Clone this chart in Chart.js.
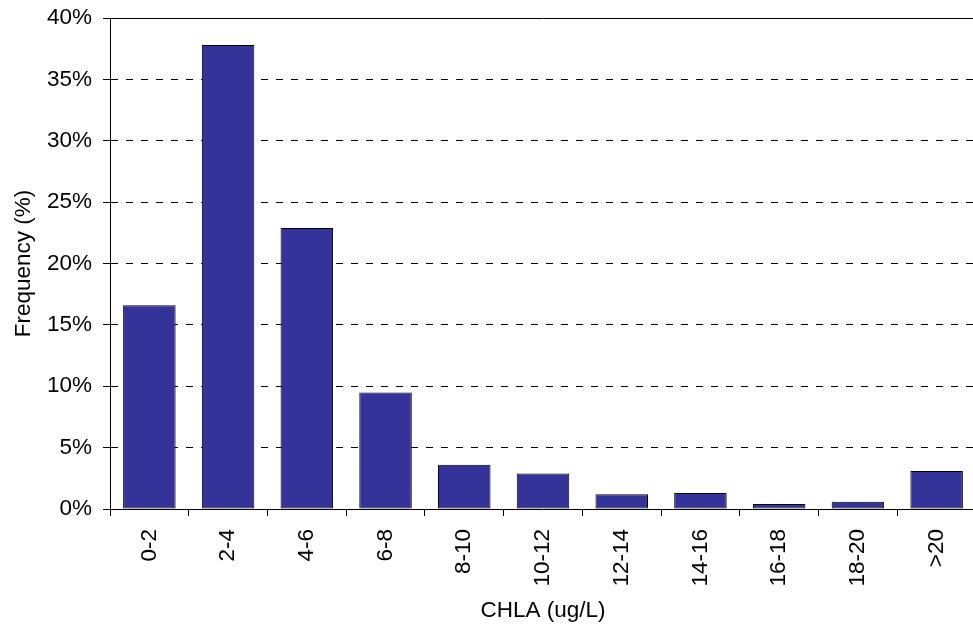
<!DOCTYPE html>
<html>
<head>
<meta charset="utf-8">
<script src="https://cdn.jsdelivr.net/npm/chart.js@4/dist/chart.umd.min.js"></script>
<style>
  html, body { margin: 0; padding: 0; background: #fff; overflow: hidden; }
  #wrap { width: 976px; height: 627px; position: relative; }
</style>
</head>
<body>
<div id="wrap"><canvas id="chart"></canvas></div>
<script>
const categories = ['0-2', '2-4', '4-6', '6-8', '8-10', '10-12', '12-14', '14-16', '16-18', '18-20', '>20'];
const frequency = [16.6, 37.8, 22.9, 9.5, 3.6, 2.9, 1.2, 1.3, 0.4, 0.6, 3.1];
const yTicks = [0, 5, 10, 15, 20, 25, 30, 35, 40];

const font = { family: '"Liberation Sans", Arial, sans-serif', size: 22.5 };

Chart.defaults.color = '#000';

new Chart(document.getElementById('chart'), {
  type: 'bar',
  data: {
    labels: categories,
    datasets: [{
      data: frequency,
      backgroundColor: '#333399',
      borderColor: '#000',
      borderWidth: 1,
      borderSkipped: false,
      barPercentage: 0.667,
      categoryPercentage: 1
    }]
  },
  options: {
    responsive: true,
    maintainAspectRatio: false,
    animation: false,
    layout: { padding: { left: 10, right: 0, top: 0, bottom: 3 } },
    plugins: {
      legend: { display: false },
      tooltip: { enabled: false }
    },
    scales: {
      x: {
        position: 'bottom',
        grid: { display: true, drawOnChartArea: false, drawTicks: true, tickLength: 7, tickColor: '#000', offset: true },
        border: { display: true, color: '#000', width: 1 },
        ticks: { font, maxRotation: 90, minRotation: 90, padding: 13, color: '#000' },
        title: { display: true, text: 'CHLA (ug/L)', font, color: '#000', padding: 0 },
        afterFit: s => { s.height = 115; s.paddingLeft = 0; s.paddingRight = 0; }
      },
      x2: {
        type: 'category',
        position: 'top',
        grid: { display: false },
        ticks: { display: false },
        border: { display: true, color: '#000', width: 1 },
        afterFit: s => { s.height = 18; }
      },
      y: {
        min: 0,
        max: 40,
        afterBuildTicks: s => { s.ticks = yTicks.map(v => ({ value: v })); },
        grid: { color: '#000', lineWidth: 1, drawTicks: true, tickLength: 7, tickColor: '#000' },
        border: { display: true, color: '#000', width: 1, dash: [7, 8] },
        ticks: { font, padding: 11, color: '#000', callback: v => v + '%' },
        title: { display: true, text: 'Frequency (%)', font, color: '#000', padding: 0 },
        afterFit: s => { s.width = 100; s.paddingTop = 0; s.paddingBottom = 0; }
      }
    }
  }
});
</script>
</body>
</html>
